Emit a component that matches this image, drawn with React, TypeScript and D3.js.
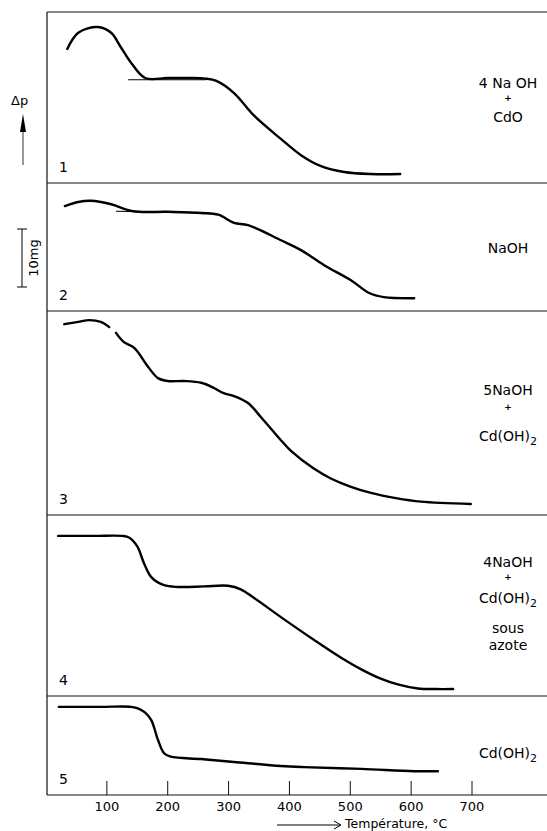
import * as d3 from "d3";
import { useEffect, useRef } from "react";

// température (°C) et Δp (mg, compté depuis le bas de chaque cadre)
const temps1 = [35, 53, 85, 107, 123, 140, 163, 200, 235, 262, 280, 309, 342, 386, 419, 452, 490, 534, 582];
const dp1 = [23.1, 25.9, 26.9, 25.9, 23.4, 20.7, 18.1, 18.1, 18.1, 18.0, 17.6, 15.5, 11.6, 7.6, 4.8, 2.9, 1.9, 1.55, 1.55];
const tangent1 = [[135, 17.8], [263, 17.8]];

const temps2 = [31, 53, 74, 107, 143, 200, 255, 283, 309, 332, 386, 419, 457, 501, 531, 555, 605];
const dp2 = [18.1, 18.8, 19.0, 18.4, 17.2, 17.1, 16.9, 16.6, 15.2, 14.8, 12.2, 10.5, 7.9, 5.3, 3.1, 2.4, 2.2];
const tangent2 = [[115, 17.2], [268, 16.9]];

const temps3a = [30, 53, 71, 90, 104];
const dp3a = [32.9, 33.3, 33.6, 33.3, 32.4];
const temps3b = [115, 128, 145, 168, 184, 200, 227, 255, 276, 292, 309, 332, 353, 386, 403, 440, 468, 500, 534, 575, 616, 698];
const dp3b = [31.4, 29.8, 28.8, 25.5, 23.6, 23.1, 23.1, 22.8, 21.9, 21.0, 20.5, 19.3, 16.9, 12.9, 11.0, 8.0, 6.3, 4.9, 3.8, 2.9, 2.3, 1.9];

const temps4 = [20, 80, 125, 137, 150, 161, 173, 194, 217, 260, 299, 320, 342, 386, 440, 485, 518, 550, 578, 611, 640, 669];
const dp4 = [27.6, 27.6, 27.6, 27.3, 25.8, 22.9, 20.5, 19.1, 18.8, 18.9, 19.0, 18.4, 16.9, 13.6, 9.7, 6.6, 4.6, 3.0, 2.0, 1.3, 1.2, 1.2];

const temps5 = [21, 90, 140, 152, 163, 173, 184, 194, 205, 255, 309, 386, 424, 518, 605, 644];
const dp5 = [15.2, 15.2, 15.2, 14.9, 14.2, 12.9, 9.5, 7.2, 6.6, 6.2, 5.7, 5.0, 4.8, 4.5, 4.1, 4.1];

const xTicks = [100, 200, 300, 400, 500, 600, 700];

const panels = [
  { num: "1", top: 12, bottom: 183, segs: [[temps1, dp1]], tangent: tangent1, label: ["4 Na OH", "+", "CdO"], labelY: [88, 101, 122] },
  { num: "2", top: 183, bottom: 311, segs: [[temps2, dp2]], tangent: tangent2, label: ["NaOH"], labelY: [253] },
  { num: "3", top: 311, bottom: 515, segs: [[temps3a, dp3a], [temps3b, dp3b]], tangent: null, label: ["5NaOH", "+", "Cd(OH)|2"], labelY: [395, 410, 441] },
  { num: "4", top: 515, bottom: 696, segs: [[temps4, dp4]], tangent: null, label: ["4NaOH", "+", "Cd(OH)|2", "sous", "azote"], labelY: [567, 580, 603, 633, 650] },
  { num: "5", top: 696, bottom: 795, segs: [[temps5, dp5]], tangent: null, label: ["Cd(OH)|2"], labelY: [758] },
];

const App = () => {
  const ref = useRef(null);
  const width = 547;
  const height = 831;
  const left = 47;
  const mgPx = 5.8; // 10 mg = 58 px

  useEffect(() => {
    const svg = d3.select(ref.current);
    svg.selectAll("*").remove();
    const font = "'DejaVu Sans', sans-serif";

    const x = d3.scaleLinear().domain([0, 700]).range([46, 472]);

    // cadre
    svg.append("line").attr("x1", left).attr("x2", width).attr("y1", 12).attr("y2", 12)
      .attr("stroke", "#111").attr("stroke-width", 1.2);
    svg.append("line").attr("x1", left).attr("x2", left).attr("y1", 12).attr("y2", 795)
      .attr("stroke", "#111").attr("stroke-width", 1.2);

    panels.forEach(p => {
      const y = d3.scaleLinear()
        .domain([0, (p.bottom - p.top) / mgPx])
        .range([p.bottom, p.top]);

      svg.append("line").attr("x1", left).attr("x2", width).attr("y1", p.bottom).attr("y2", p.bottom)
        .attr("stroke", "#111").attr("stroke-width", 1.2);

      const line = d3.line().x(d => x(d[0])).y(d => y(d[1])).curve(d3.curveCatmullRom.alpha(0.5));
      p.segs.forEach(([ts, vs]) => {
        svg.append("path")
          .attr("d", line(ts.map((t, i) => [t, vs[i]])))
          .attr("fill", "none").attr("stroke", "#000").attr("stroke-width", 2.4)
          .attr("stroke-linecap", "round");
      });

      if (p.tangent) {
        svg.append("path")
          .attr("d", d3.line().x(d => x(d[0])).y(d => y(d[1]))(p.tangent))
          .attr("fill", "none").attr("stroke", "#000").attr("stroke-width", 1.2);
      }

      svg.append("text").attr("x", 59).attr("y", p.bottom - 11)
        .attr("font-family", font).attr("font-size", 14).text(p.num);

      p.label.forEach((t, i) => {
        const txt = svg.append("text").attr("x", 508).attr("y", p.labelY[i])
          .attr("text-anchor", "middle").attr("font-family", font)
          .attr("font-size", t === "+" ? 9 : 14).attr("font-weight", t === "+" ? "bold" : "normal");
        const [main, sub] = t.split("|");
        txt.append("tspan").text(main);
        if (sub) txt.append("tspan").attr("dy", 4).attr("font-size", 11).text(sub);
      });
    });

    // axe des températures
    svg.selectAll(".tick").data(xTicks).enter().append("line")
      .attr("x1", d => x(d)).attr("x2", d => x(d)).attr("y1", 795).attr("y2", 781)
      .attr("stroke", "#111").attr("stroke-width", 1);
    svg.selectAll(".ticklab").data(xTicks).enter().append("text")
      .attr("x", d => x(d)).attr("y", 811).attr("text-anchor", "middle")
      .attr("font-family", font).attr("font-size", 13).text(d => d);

    svg.append("line").attr("x1", 277).attr("x2", 340).attr("y1", 825).attr("y2", 825)
      .attr("stroke", "#000").attr("stroke-width", 1);
    svg.append("path").attr("d", "M334,821 L341,825 L334,829").attr("fill", "none")
      .attr("stroke", "#000").attr("stroke-width", 1);
    svg.append("text").attr("x", 345).attr("y", 828).attr("font-family", font)
      .attr("font-size", 12.5).text("Température, °C");

    // Δp
    svg.append("text").attr("x", 11).attr("y", 105).attr("font-family", font)
      .attr("font-size", 13).text("Δp");
    svg.append("path").attr("d", "M23,114 L26,132 L20,132 Z").attr("fill", "#000");
    svg.append("line").attr("x1", 23).attr("x2", 23).attr("y1", 132).attr("y2", 165)
      .attr("stroke", "#000").attr("stroke-width", 0.8);

    // échelle 10 mg
    const y10 = 287;
    svg.append("line").attr("x1", 22).attr("x2", 22).attr("y1", y10 - 10 * mgPx).attr("y2", y10)
      .attr("stroke", "#000").attr("stroke-width", 1);
    [y10 - 10 * mgPx, y10].forEach(v => {
      svg.append("line").attr("x1", 17).attr("x2", 27).attr("y1", v).attr("y2", v)
        .attr("stroke", "#000").attr("stroke-width", 1);
    });
    svg.append("text").attr("transform", `translate(38, ${y10 - 5 * mgPx}) rotate(-90)`)
      .attr("text-anchor", "middle").attr("font-family", font).attr("font-size", 13).text("10mg");
  }, []);

  return (
    <svg ref={ref} width={width} height={height}
      style={{ position: "absolute", left: 0, top: 0, background: "#fff" }}></svg>
  );
};

export default App;
